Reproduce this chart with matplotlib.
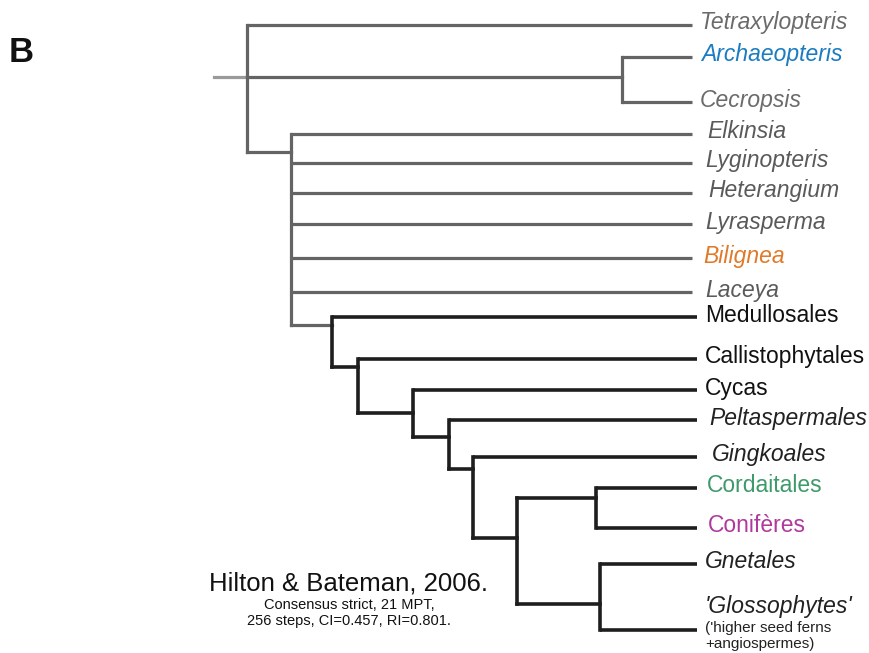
import matplotlib
matplotlib.use("Agg")
import matplotlib.pyplot as plt

# --- data: tips (top to bottom) ---
taxa = ["Tetraxylopteris", "Archaeopteris", "Cecropsis", "Elkinsia", "Lyginopteris",
        "Heterangium", "Lyrasperma", "Bilignea", "Laceya", "Medullosales",
        "Callistophytales", "Cycas", "Peltaspermales", "Gingkoales", "Cordaitales",
        "Conifères", "Gnetales", "'Glossophytes'"]
tip_y = [25, 57, 102, 134, 163, 193, 224, 258, 292, 317,
         359, 390, 420, 457, 488, 528, 564, 630]
tip_italic = [True] * 9 + [False, False, False, True, True, False, False, True, True]
tip_color = ["#6b6b6b", "#1a7cc1", "#6b6b6b", "#5a5a5a", "#5a5a5a", "#5a5a5a", "#5a5a5a",
             "#e07a2a", "#5a5a5a", "#111111", "#111111", "#111111", "#222222", "#222222",
             "#3f9a6b", "#b0399c", "#222222", "#222222"]

# internal nodes: name -> (depth x, y of stem, children)
nodes = {
    "root":    (247, 77,  ["Tetraxylopteris", "archaeo", "sperm"]),
    "archaeo": (622, 77,  ["Archaeopteris", "Cecropsis"]),
    "sperm":   (291, 152, ["Elkinsia", "Lyginopteris", "Heterangium", "Lyrasperma",
                           "Bilignea", "Laceya", "n1"]),
    "n1":      (332, 325, ["Medullosales", "n2"]),
    "n2":      (358, 367, ["Callistophytales", "n3"]),
    "n3":      (413, 413, ["Cycas", "n4"]),
    "n4":      (449, 437, ["Peltaspermales", "n5"]),
    "n5":      (473, 469, ["Gingkoales", "n6"]),
    "n6":      (517, 538, ["n7", "n8"]),
    "n7":      (596, 498, ["Cordaitales", "Conifères"]),
    "n8":      (600, 604, ["Gnetales", "'Glossophytes'"]),
}
dark_nodes = {"n1", "n2", "n3", "n4", "n5", "n6", "n7", "n8"}

GRAY = "#646464"
DARK = "#1e1e1e"
TIP_END_GRAY = 692
TIP_END_DARK = 697
LABEL_X = 705
LABEL_SHIFT = {"Tetraxylopteris": -5, "Archaeopteris": -4, "Cecropsis": -5,
               "Elkinsia": 2, "Heterangium": 3, "Bilignea": -2,
               "Peltaspermales": 4, "Gingkoales": 7, "Cordaitales": 2, "Conifères": 3}

plt.rcParams["font.family"] = ["Liberation Sans", "DejaVu Sans"]

fig = plt.figure(figsize=(8.7, 6.53), dpi=100)
fig.patch.set_facecolor("white")
ax = fig.add_axes([0, 0, 1, 1])
ax.set_xlim(0, 870)
ax.set_ylim(653, 0)
ax.axis("off")

tip_index = {t: i for i, t in enumerate(taxa)}


def child_y(c):
    return nodes[c][1] if c in nodes else tip_y[tip_index[c]]


def draw(name):
    x, y, kids = nodes[name]
    col = DARK if name in dark_nodes else GRAY
    lw = 2.6 if name in dark_nodes else 2.3
    ys = [child_y(c) for c in kids]
    ax.plot([x, x], [min(ys), max(ys)], color=col, lw=lw, solid_capstyle="projecting")
    for c, cy in zip(kids, ys):
        if c in nodes:
            ccol = GRAY if c == "n1" else col
            ax.plot([x, nodes[c][0]], [cy, cy], color=ccol, lw=lw, solid_capstyle="projecting")
            draw(c)
        else:
            end = TIP_END_DARK if name in dark_nodes else TIP_END_GRAY
            ax.plot([x, end], [cy, cy], color=col, lw=lw, solid_capstyle="butt")


# root stub
ax.plot([214, nodes["root"][0]], [nodes["root"][1]] * 2, color="#9a9a9a", lw=2.3)
draw("root")

for t, y, it, c in zip(taxa, tip_y, tip_italic, tip_color):
    yy = y - 2 if t != "'Glossophytes'" else y - 23
    ax.text(LABEL_X + LABEL_SHIFT.get(t, 0), yy, t, ha="left", va="center", fontsize=16.5,
            style="italic" if it else "normal", color=c)

ax.text(LABEL_X, 636, "('higher seed ferns\n+angiospermes)", ha="left", va="center",
        fontsize=11, color="#222222", linespacing=1.25)

ax.text(9, 52, "B", ha="left", va="center", fontsize=25, fontweight="bold", color="#111111")

ax.text(349, 583, "Hilton & Bateman, 2006.", ha="center", va="center", fontsize=18.5,
        color="#111111")
ax.text(349, 605, "Consensus strict, 21 MPT,", ha="center", va="center", fontsize=10.5,
        color="#111111")
ax.text(349, 621, "256 steps, CI=0.457, RI=0.801.", ha="center", va="center", fontsize=10.5,
        color="#111111")

fig.savefig("out.png", dpi=100, facecolor="white")
plt.close(fig)
